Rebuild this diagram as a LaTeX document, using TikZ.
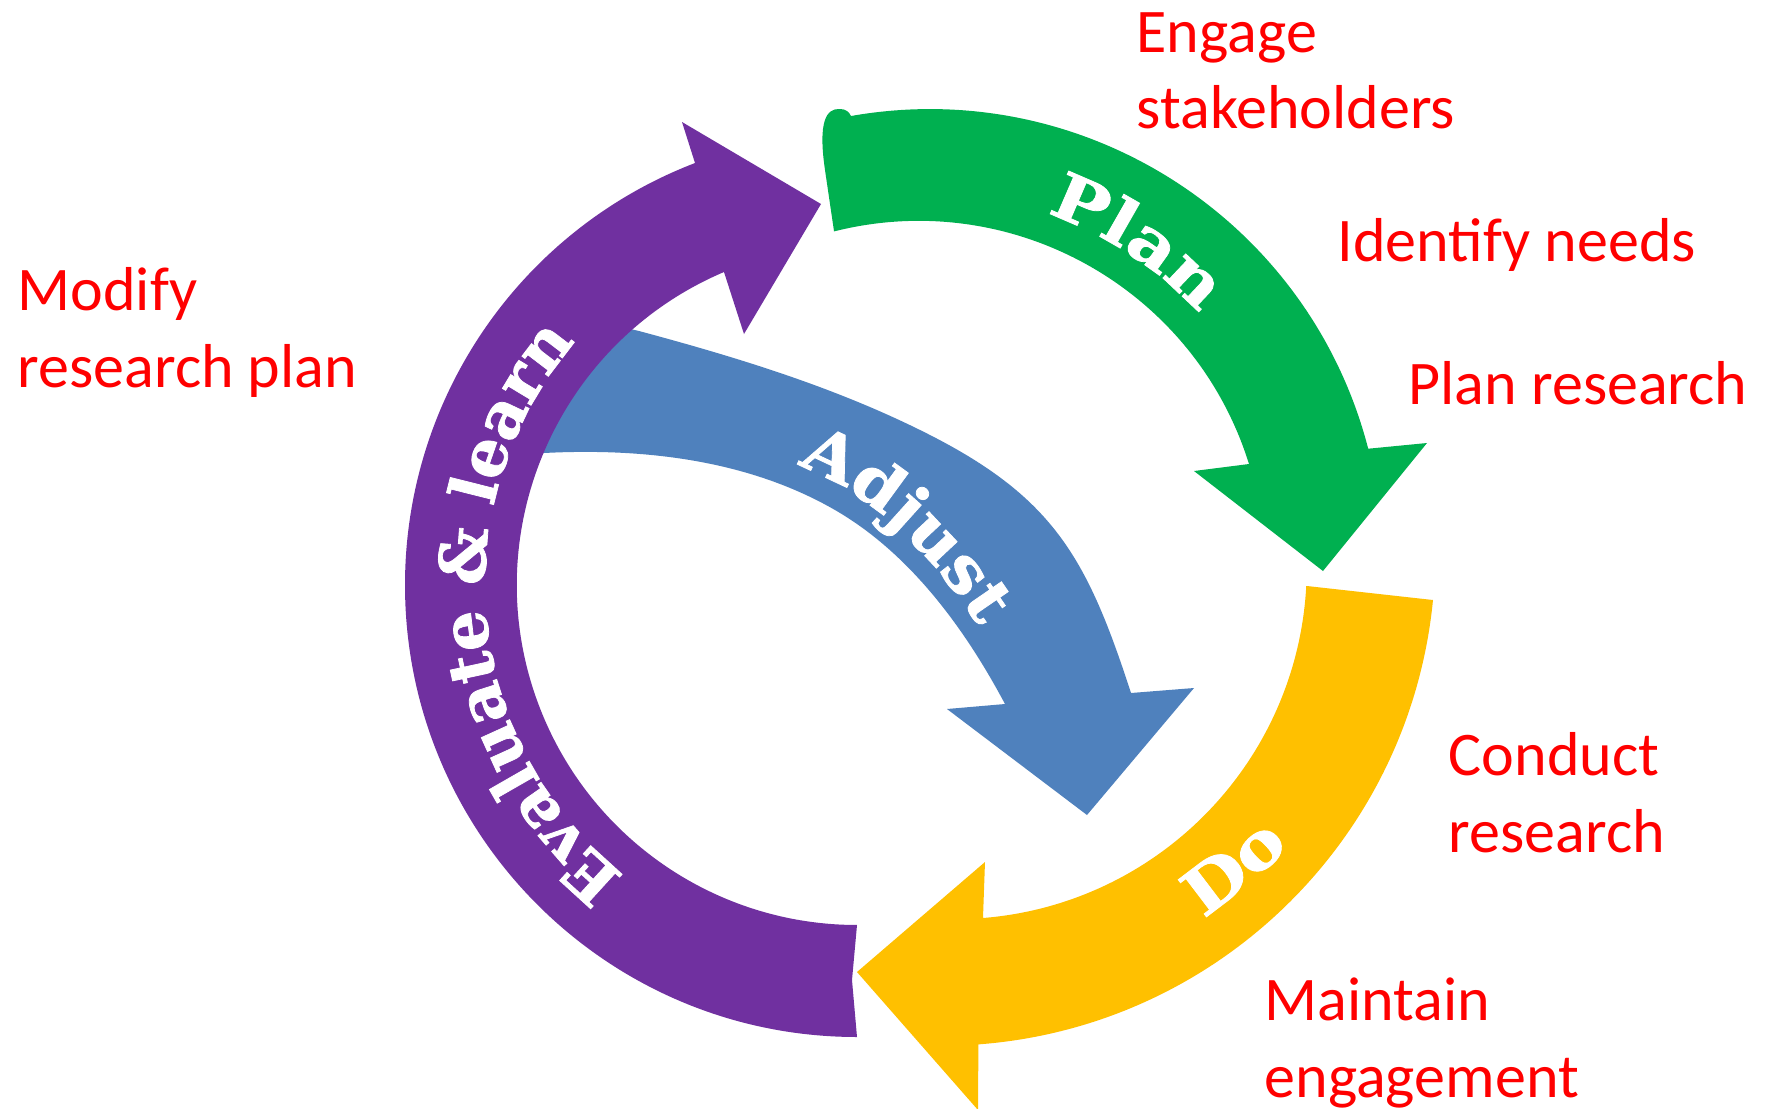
\documentclass[tikz,border=0pt]{standalone}
\usepackage{fontspec}
\setmainfont{Carlito}
\newfontfamily\slabwide[FakeStretch=1.15, BoldFeatures={FakeBold=1.2}]{DejaVu Serif}
\newfontfamily\slabmid[FakeStretch=1.08, BoldFeatures={FakeBold=1.2}]{DejaVu Serif}
\newfontfamily\slabnorm[BoldFeatures={FakeBold=1.2}]{DejaVu Serif}
\usetikzlibrary{decorations.text}
\definecolor{cgreen}{HTML}{00B050}
\definecolor{cpurple}{HTML}{7030A0}
\definecolor{cblue}{HTML}{4F81BD}
\definecolor{cyellow}{HTML}{FFC000}
\definecolor{cred}{HTML}{FF0000}
\newcommand\wideslab{\slabwide\bfseries\fontsize{18.2pt}{20pt}\selectfont\color{white}}
\newcommand\midslab{\slabmid\bfseries\fontsize{18.2pt}{20pt}\selectfont\color{white}}
\newcommand\normslab{\slabnorm\bfseries\fontsize{18.2pt}{20pt}\selectfont\color{white}}
\begin{document}
\begin{tikzpicture}[x=0.01cm,y=-0.01cm,
  lbl/.style={anchor=base west, inner sep=0pt, text=cred,
    font=\fontsize{17.64pt}{21.6pt}\selectfont}]
\useasboundingbox (0,0) rectangle (1768,1108);
\fill[white] (0,0) rectangle (1768,1108);

% Adjust (blue), drawn first so its tail lies under the purple band
\fill[cblue] (600,322) -- (639,331)
  .. controls (738.5,357.7) and (838.2,388.2) .. (930,435)
  .. controls (1054.7,498.6) and (1087.7,559.9) .. (1131,693)
  -- (1194,688) -- (1087,815) -- (947,709) -- (1005,704)
  .. controls (964.6,628) and (909.5,553) .. (835,510)
  .. controls (748.4,460) and (644,447.8) .. (544,453)
  -- (515,463) -- cycle;

% Evaluate & learn (purple)
\fill[cpurple] (857,925) -- (852,980) -- (857,1037)
  arc[start angle=90, end angle=249, radius=452]
  -- (682,122) -- (821,204) -- (744,334) -- (724,272)
  arc[start angle=247, end angle=90, radius=340] -- cycle;

% Plan (green)
\fill[cgreen] (834,231) -- (825,170) .. controls (818,122) and (826,108) .. (840,109)
  .. controls (846,109) and (849,112) .. (851,116)
  arc[start angle=260, end angle=345.5, radius=453]
  -- (1427,443) -- (1323,571) -- (1194,471) -- (1249,464)
  arc[start angle=342.7, end angle=255.8, radius=346] -- cycle;

% Do (yellow)
\fill[cyellow] (1307,586) -- (1433,600)
  arc[start angle=5.6, end angle=85.7, radius=494]
  -- (978,1110) -- (857,972) -- (985,862) -- (983,918)
  arc[start angle=85.4, end angle=3.1, radius=352] -- cycle;

% curved white labels
\path[decorate, decoration={text along path, text align=center,
    text={|\wideslab|Plan}}]
  (946.4,193.6) arc[start angle=273.3, end angle=333.3, radius=372];
\path[decorate, decoration={text along path,
    text={|\midslab|Adjust}}]
  (797,466) .. controls (880,492) and (962,585) .. (1010,680);
\path[decorate, decoration={text along path,
    text={|\wideslab|Do}}]
  (1203,918) .. controls (1245,891) and (1286,852) .. (1320,815);
\path[decorate, decoration={text along path, text align=center,
    text={|\normslab|Evaluate {\&} learn}}]
  (701.3,922.8) arc[start angle=114.75, end angle=234.75, radius=372];

% red annotations
\node[lbl] (eng1) at (1136,52) {Engage};
\node[lbl] (eng2) at (1136,128) {stakeholders};
\node[lbl] (idn) at (1337,261) {Identify needs};
\node[lbl] (plr) at (1408,404) {Plan research};
\node[lbl] (con1) at (1448,775) {Conduct};
\node[lbl] (con2) at (1448,852) {research};
\node[lbl] (mai1) at (1264,1020) {Maintain};
\node[lbl] (mai2) at (1264,1097) {engagement};
\node[lbl] (mod1) at (17,310) {Modify};
\node[lbl] (mod2) at (17,387) {research plan};
\end{tikzpicture}
\end{document}
